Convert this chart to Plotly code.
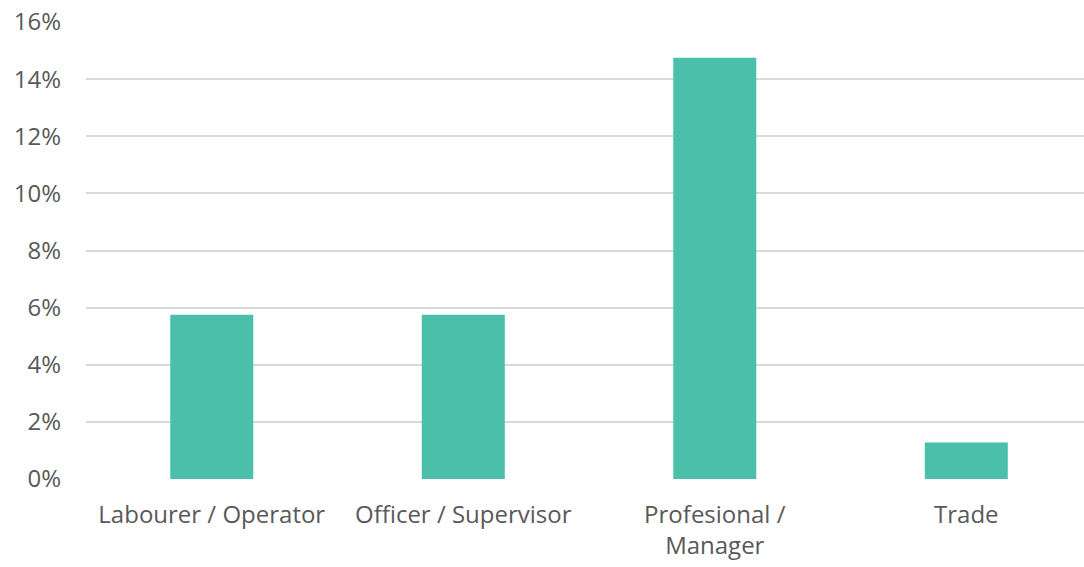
import plotly.graph_objects as go

# Share of respondents by occupation group
categories = ["Labourer / Operator", "Officer / Supervisor", "Profesional /<br>Manager", "Trade"]
shares = [5.75, 5.75, 14.75, 1.28]
y_ticks = [0, 2, 4, 6, 8, 10, 12, 14, 16]
y_tick_labels = [f"{v}%" for v in y_ticks]

BAR_COLOR = "#4BBFA9"
TEXT_COLOR = "#595959"
GRID_COLOR = "#D9D9D9"

fig = go.Figure(
    go.Bar(
        x=list(range(len(categories))),
        y=shares,
        marker=dict(color=BAR_COLOR, line=dict(width=0)),
        hovertemplate="%{y}%<extra></extra>",
    )
)

fig.update_layout(
    width=1084,
    height=567,
    margin=dict(l=86, r=0, t=22, b=88),
    paper_bgcolor="white",
    plot_bgcolor="white",
    bargap=0.67,
    showlegend=False,
    font=dict(family="Open Sans, sans-serif", size=24, color=TEXT_COLOR),
)

fig.update_xaxes(
    tickmode="array",
    tickvals=list(range(len(categories))),
    ticktext=categories,
    range=[-0.5, 3.468],
    showgrid=False,
    zeroline=False,
    showline=False,
    ticks="",
    ticklabelstandoff=19,
)

fig.update_yaxes(
    range=[0, 16],
    tickmode="array",
    tickvals=y_ticks,
    ticktext=y_tick_labels,
    showgrid=True,
    gridcolor=GRID_COLOR,
    gridwidth=1.5,
    zeroline=False,
    showline=False,
    ticks="",
    ticklabelstandoff=24,
)

fig.write_html("out.html")
